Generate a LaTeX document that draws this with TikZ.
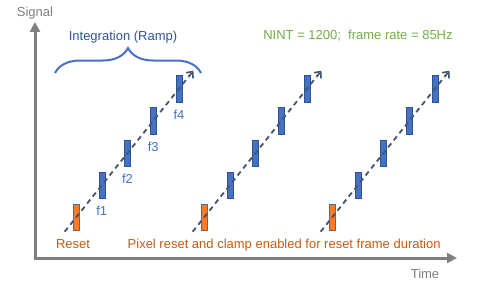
\documentclass[tikz,border=0pt]{standalone}
\usepackage{fontspec}
\setmainfont{Liberation Sans}
\usepackage{tikz}
\usetikzlibrary{positioning,calc,arrows.meta,decorations.pathreplacing}
\usepackage{xcolor}

\definecolor{axisgray}{HTML}{7F7F7F}
\definecolor{barblue}{HTML}{4472C4}
\definecolor{barblueline}{HTML}{2F528F}
\definecolor{resetorange}{HTML}{ED7D31}
\definecolor{resetline}{HTML}{5B6B86}
\definecolor{rampgray}{HTML}{44546A}
\definecolor{titleblue}{HTML}{2F5597}
\definecolor{notegreen}{HTML}{70AD47}
\definecolor{noteorange}{HTML}{C55A11}

\begin{document}
\begin{tikzpicture}[
    x=1pt, y=1pt,
    on grid,
    node distance = 32.2pt and 25.75pt,
    font=\fontsize{13}{15}\selectfont,
    barB/.style = {rectangle, draw=barblueline, line width=0.5pt, fill=barblue, minimum width=6pt, minimum height=26.5pt, inner sep=0pt},
    barR/.style = {barB, draw=resetline, line width=0.8pt, fill=resetorange},
    flabel/.style = {inner sep=0pt, text height=9.3pt, text depth=0pt, text=barblue},
    note/.style = {inner sep=0pt, anchor=base, text=#1},
    ramp/.style = {draw=rampgray, line width=1.8pt, dash pattern=on 5pt off 4pt, -{Straight Barb[length=5pt,width=9pt,line width=1.6pt]}},
    axis/.style = {draw=axisgray, line width=3pt, {Triangle[length=10pt,width=10pt]}-{Triangle[length=10pt,width=10pt]}}
]
    \useasboundingbox (0,0) rectangle (480,290);

    % 1. Axes
    \coordinate (origin) at (35,32);
    \coordinate (ytip) at (35,268);
    \coordinate (xtip) at (457,32);
    \draw [axis] (ytip) -- (origin) -- (xtip);
    \node [note=axisgray] (signal) at (35,273.3) {Signal};
    \node [note=axisgray] (time) at (425,11.7) {Time};

    % 2. First frame group
    \node [barR] (a0) at (76,72.5) {};
    \node [barB, above right=of a0] (a1) {};
    \node [barB, above right=of a1] (a2) {};
    \node [barB, above right=of a2] (a3) {};
    \node [barB, above right=of a3] (a4) {};

    % 3. Second frame group
    \node [barR, right=128pt of a0] (b0) {};
    \node [barB, above right=of b0] (b1) {};
    \node [barB, above right=of b1] (b2) {};
    \node [barB, above right=of b2] (b3) {};
    \node [barB, above right=of b3] (b4) {};

    % 4. Third frame group
    \node [barR, right=128pt of b0] (c0) {};
    \node [barB, above right=of c0] (c1) {};
    \node [barB, above right=of c1] (c2) {};
    \node [barB, above right=of c2] (c3) {};
    \node [barB, above right=of c3] (c4) {};

    % 5. Frame labels
    \node [flabel, below=26pt of a1] (f1) {f1};
    \node [flabel, below=26pt of a2] (f2) {f2};
    \node [flabel, below=26pt of a3] (f3) {f3};
    \node [flabel, below=26pt of a4] (f4) {f4};

    % 6. Ramps
    \coordinate (sa) at ($(a0)!-0.11!(a4)$);
    \coordinate (ea) at ($(a0)!1.14!(a4)$);
    \coordinate (sb) at ($(b0)!-0.11!(b4)$);
    \coordinate (eb) at ($(b0)!1.14!(b4)$);
    \coordinate (sc) at ($(c0)!-0.11!(c4)$);
    \coordinate (ec) at ($(c0)!1.14!(c4)$);
    \draw [ramp] (sa) -- (ea);
    \draw [ramp] (sb) -- (eb);
    \draw [ramp] (sc) -- (ec);

    % 7. Brace and notes
    \coordinate (brace_l) at (55,217);
    \coordinate (brace_r) at (201,217);
    \draw [barblue, line width=2pt, decorate, decoration={brace, amplitude=25pt}] (brace_l) -- (brace_r);
    \node [note=titleblue] (ramp_title) at (123,250) {Integration (Ramp)};
    \node [note=notegreen] (settings) at (358,250.5) {NINT = 1200;\ \ frame rate = 85Hz};
    \node [note=noteorange] (reset) at (73,41.5) {Reset};
    \node [note=noteorange, anchor=base west] (clamp) at (127.5,41.5) {Pixel reset and clamp enabled for reset frame duration};

\end{tikzpicture}
\end{document}
